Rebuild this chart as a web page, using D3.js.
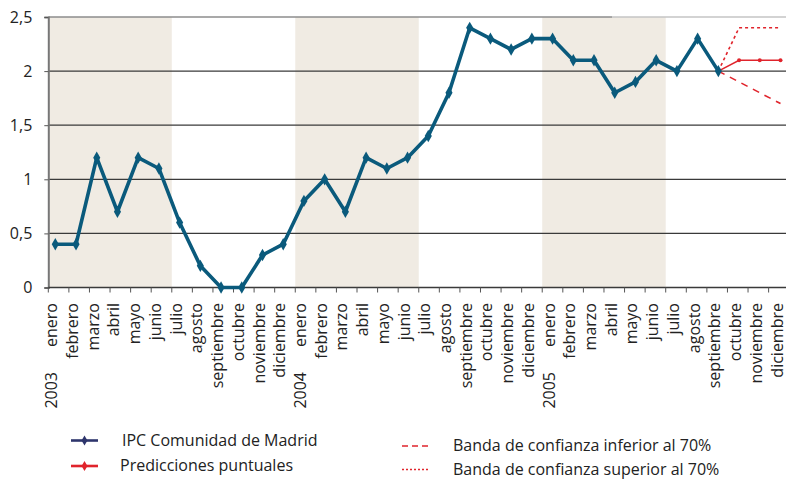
<!DOCTYPE html>
<html>
<head>
<meta charset="utf-8">
<script src="https://cdn.jsdelivr.net/npm/d3@7"></script>
<style>
  html, body { margin: 0; padding: 0; background: #fff; }
  svg { display: block; }
  text { font-family: "Open Sans", sans-serif; fill: #222; }
</style>
</head>
<body>
<svg id="chart" width="786" height="479"></svg>
<script>
// ── data ──────────────────────────────────────────────
const months = ['enero','febrero','marzo','abril','mayo','junio','julio','agosto',
  'septiembre','octubre','noviembre','diciembre'];
const years = ['2003', '2004', '2005'];
const ipc = [0.4, 0.4, 1.2, 0.7, 1.2, 1.1, 0.6, 0.2, 0.0, 0.0, 0.3, 0.4,
             0.8, 1.0, 0.7, 1.2, 1.1, 1.2, 1.4, 1.8, 2.4, 2.3, 2.2, 2.3,
             2.3, 2.1, 2.1, 1.8, 1.9, 2.1, 2.0, 2.3, 2.0];
const predIdx = [32, 33, 34, 35];
const pred = [2.0, 2.1, 2.1, 2.1];
const bandLow = [2.0, 1.9, 1.8, 1.7];
const bandHigh = [2.0, 2.4, 2.4, 2.4];
const yTicks = [0, 0.5, 1, 1.5, 2, 2.5];
const shadedHalves = [0, 12, 24]; // first-half-year blocks (start index, 6 months)

const svg = d3.select('#chart');
const plotLeft = 48.3, plotTop = 17, plotBottom = 287.5;

const x = d3.scaleLinear().domain([0, 35]).range([55.3, 780.5]);   // data points
const xt = d3.scaleLinear().domain([0, 36]).range([plotLeft, 789.2]);  // ticks / bands
const y = d3.scaleLinear().domain([0, 2.5]).range([plotBottom, plotTop]);

const allLabels = years.flatMap(() => months);

// ── background bands ──
svg.append('g').selectAll('rect').data(shadedHalves).enter().append('rect')
  .attr('x', d => xt(d)).attr('y', plotTop)
  .attr('width', d => xt(d + 6) - xt(d)).attr('height', plotBottom - plotTop)
  .attr('fill', '#f0ebe3');

// ── grid ──
svg.append('g').selectAll('line').data(yTicks.filter(v => v > 0 && v < 2.5)).enter().append('line')
  .attr('x1', plotLeft).attr('x2', 786)
  .attr('y1', d => y(d)).attr('y2', d => y(d))
  .attr('stroke', '#3a3a3a').attr('stroke-width', 1.2);

// top border
svg.append('line').attr('x1', plotLeft).attr('x2', 612).attr('y1', plotTop).attr('y2', plotTop)
  .attr('stroke', '#8c8c8c').attr('stroke-width', 1.6);
svg.append('line').attr('x1', 612).attr('x2', 786).attr('y1', plotTop).attr('y2', plotTop)
  .attr('stroke', '#c4c4c4').attr('stroke-width', 1.6);

// ── y axis ──
const yAxis = svg.append('g').attr('transform', `translate(${plotLeft},0)`)
  .call(d3.axisLeft(y).tickValues(yTicks).tickSize(4).tickPadding(12)
    .tickFormat(d => String(d).replace('.', ',')));
yAxis.select('.domain').attr('stroke', '#777').attr('stroke-width', 2);
yAxis.selectAll('.tick line').attr('stroke', '#555');
yAxis.selectAll('.tick text').attr('font-size', 16).attr('fill', '#222')
  .style('font-family', '"Open Sans", sans-serif');

// ── x axis ──
svg.append('line').attr('x1', plotLeft).attr('x2', 786).attr('y1', plotBottom).attr('y2', plotBottom)
  .attr('stroke', '#3a3a3a').attr('stroke-width', 1.4);
svg.append('g').selectAll('line').data(d3.range(0, 36)).enter().append('line')
  .attr('x1', d => xt(d)).attr('x2', d => xt(d))
  .attr('y1', plotBottom).attr('y2', plotBottom + 5)
  .attr('stroke', '#555').attr('stroke-width', 1);

svg.append('g').selectAll('text').data(allLabels).enter().append('text')
  .attr('transform', (d, i) => `translate(${x(i) + 2},303) rotate(-90)`)
  .attr('text-anchor', 'end').attr('font-size', 16).text(d => d);

svg.append('g').selectAll('text').data(years).enter().append('text')
  .attr('transform', (d, i) => `translate(${x(i * 12) + 2},372) rotate(-90)`)
  .attr('text-anchor', 'end').attr('font-size', 16).text(d => d);

// ── series ──
const line = d3.line().x(d => x(d[0])).y(d => y(d[1]));
const blue = '#0a5a7c', red = '#e0242c';

svg.append('path').datum(bandHigh.map((v, i) => [predIdx[i], v]))
  .attr('d', line).attr('fill', 'none').attr('stroke', red)
  .attr('stroke-width', 1.6).attr('stroke-dasharray', '3,3');
svg.append('path').datum(bandLow.map((v, i) => [predIdx[i], v]))
  .attr('d', line).attr('fill', 'none').attr('stroke', red)
  .attr('stroke-width', 1.6).attr('stroke-dasharray', '7,6');
svg.append('path').datum(pred.map((v, i) => [predIdx[i], v]))
  .attr('d', line).attr('fill', 'none').attr('stroke', red).attr('stroke-width', 1.6);
svg.append('g').selectAll('circle').data(pred.slice(1)).enter().append('circle')
  .attr('cx', (d, i) => x(predIdx[i + 1])).attr('cy', d => y(d)).attr('r', 2)
  .attr('fill', red);

svg.append('path').datum(ipc.map((v, i) => [i, v]))
  .attr('d', line).attr('fill', 'none').attr('stroke', blue)
  .attr('stroke-width', 3.6).attr('stroke-linejoin', 'round');
svg.append('g').selectAll('path').data(ipc).enter().append('path')
  .attr('d', d3.symbol(d3.symbolDiamond, 44))
  .attr('transform', (d, i) => `translate(${x(i)},${y(d)})`)
  .attr('fill', blue);

// ── legend ──
const lg = svg.append('g');
function legendItem(x0, yy, color, dash, marker, label, tx) {
  lg.append('line').attr('x1', x0).attr('x2', x0 + 27).attr('y1', yy).attr('y2', yy)
    .attr('stroke', color).attr('stroke-width', marker ? 2.6 : 1.6)
    .attr('stroke-dasharray', dash || null);
  if (marker) lg.append('path').attr('d', d3.symbol(d3.symbolDiamond, 30))
    .attr('transform', `translate(${x0 + 13.5},${yy})`).attr('fill', color);
  lg.append('text').attr('x', tx).attr('y', yy + 5).attr('font-size', 16).text(label);
}
legendItem(71, 440.5, '#2e356c', null, true, 'IPC Comunidad de Madrid', 122);
legendItem(71, 466, red, null, true, 'Predicciones puntuales', 120);
legendItem(402, 446, red, '6,4', false, 'Banda de confianza inferior al 70%', 453);
legendItem(402, 469.5, red, '2,2', false, 'Banda de confianza superior al 70%', 453);
</script>
</body>
</html>
